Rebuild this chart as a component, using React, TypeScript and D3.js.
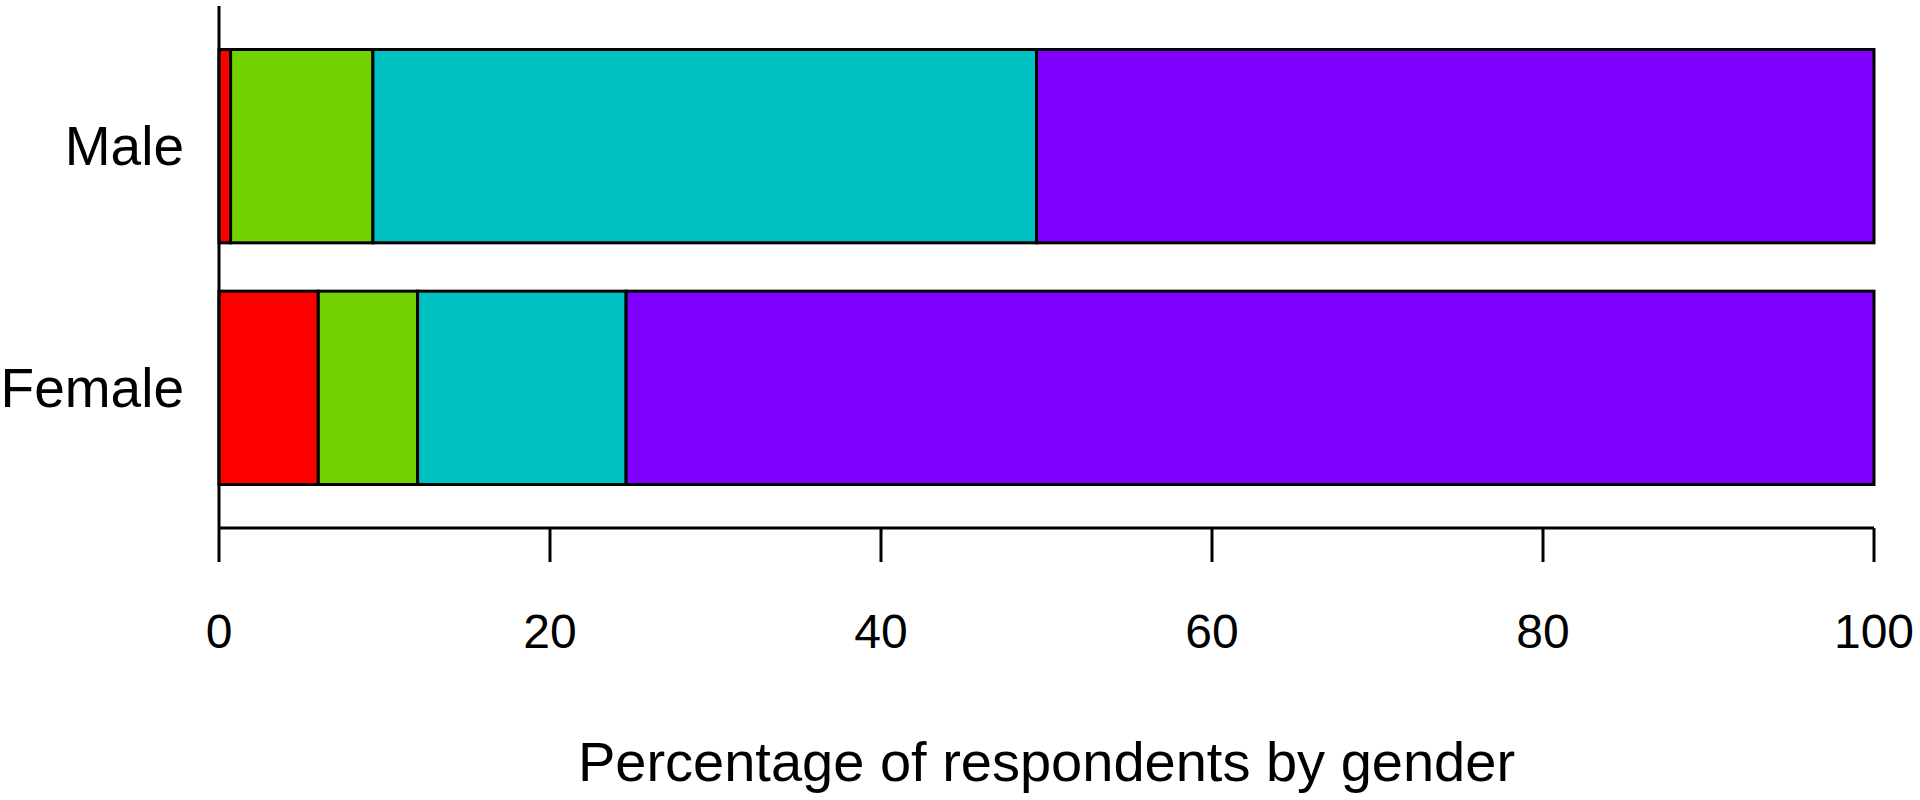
import React from "react";
import * as d3 from "d3";

const categories = ["Male", "Female"];
const seriesNames = ["s1", "s2", "s3", "s4"];
const seriesColors = ["#FF0000", "#72D100", "#00C1C1", "#8000FF"];
const maleValues = [0.7, 8.6, 40.1, 50.6];
const femaleValues = [6.0, 6.0, 12.6, 75.4];
const xTicks = [0, 20, 40, 60, 80, 100];
const xLabel = "Percentage of respondents by gender";

const W = 1920;
const H = 800;
const FONT = "'Liberation Sans', Arial, Helvetica, sans-serif";

export default function App() {
  const x = d3.scaleLinear().domain([0, 100]).range([219, 1874]);
  const y = d3
    .scaleBand<string>()
    .domain(categories)
    .range([6, 528])
    .paddingInner(0.2)
    .paddingOuter(0.18);

  const rows = [maleValues, femaleValues];
  const segs: { cat: string; x0: number; x1: number; color: string; key: string }[] = [];
  categories.forEach((cat, ci) => {
    let acc = 0;
    rows[ci].forEach((v, si) => {
      segs.push({ cat, x0: acc, x1: acc + v, color: seriesColors[si], key: cat + seriesNames[si] });
      acc += v;
    });
  });

  const axisY = 528;

  return (
    <svg
      width={W}
      height={H}
      style={{ position: "absolute", left: 0, top: 0, background: "#fff" }}
      fontFamily={FONT}
    >
      {segs.map((s) => (
        <rect
          key={s.key}
          x={x(s.x0)}
          y={y(s.cat)!}
          width={x(s.x1) - x(s.x0)}
          height={y.bandwidth()}
          fill={s.color}
          stroke="#000"
          strokeWidth={3}
        />
      ))}
      {/* y axis line */}
      <line x1={x(0)} x2={x(0)} y1={6} y2={axisY} stroke="#000" strokeWidth={3} />
      {/* x axis */}
      <line x1={x(0)} x2={x(100)} y1={axisY} y2={axisY} stroke="#000" strokeWidth={3} />
      {xTicks.map((t) => (
        <g key={t}>
          <line x1={x(t)} x2={x(t)} y1={axisY} y2={axisY + 34} stroke="#000" strokeWidth={3} />
          <text x={x(t)} y={648} textAnchor="middle" fontSize={48} fill="#000">
            {t}
          </text>
        </g>
      ))}
      {categories.map((c) => (
        <text
          key={c}
          x={184}
          y={y(c)! + y.bandwidth() / 2 + 19}
          textAnchor="end"
          fontSize={55}
          fill="#000"
        >
          {c}
        </text>
      ))}
      <text x={(x(0) + x(100)) / 2} y={781} textAnchor="middle" fontSize={56} fill="#000">
        {xLabel}
      </text>
    </svg>
  );
}
